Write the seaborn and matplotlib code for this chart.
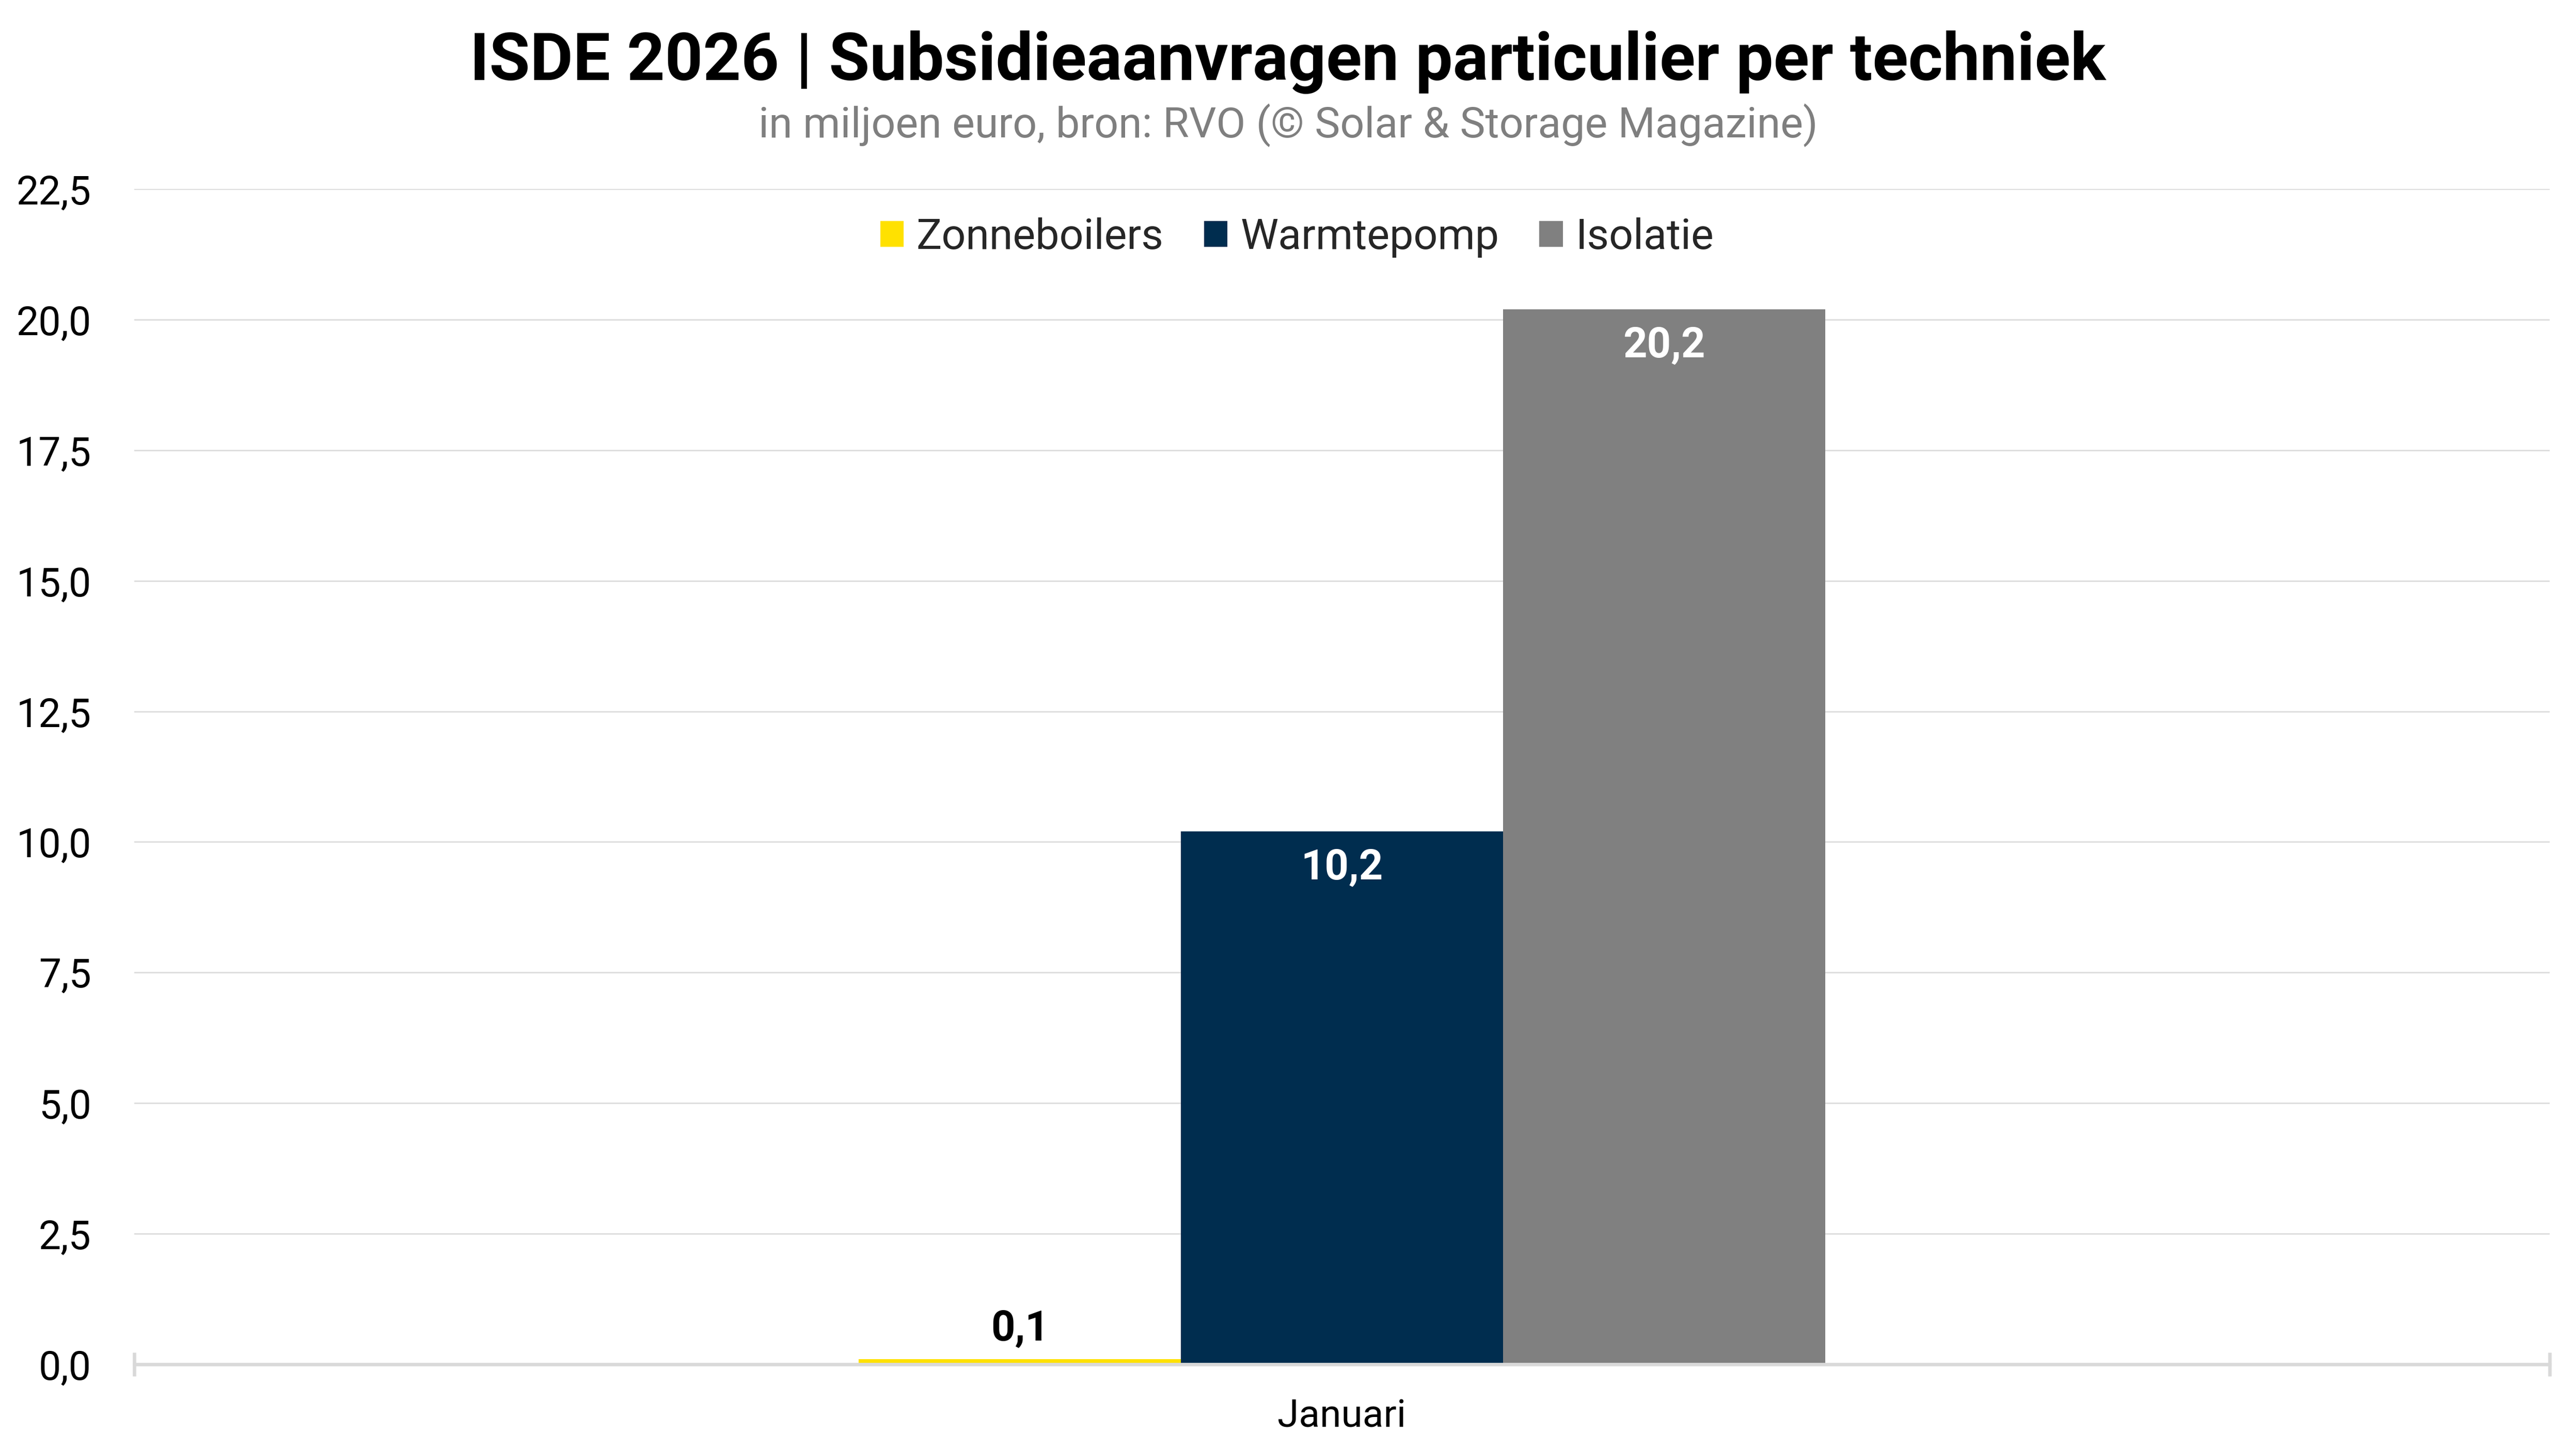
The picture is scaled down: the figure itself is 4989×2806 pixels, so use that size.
"""ISDE 2026 subsidieaanvragen particulier per techniek (bar chart)."""

import matplotlib

matplotlib.use("Agg")

import matplotlib.pyplot as plt
import matplotlib.ticker as mticker
import pandas as pd
import seaborn as sns


MAANDEN = ["Januari"]
TECHNIEKEN = ["Zonneboilers", "Warmtepomp", "Isolatie"]
WAARDEN = [0.1, 10.2, 20.2]  # miljoen euro, per techniek in januari
Y_TICKS = [0, 2.5, 5, 7.5, 10, 12.5, 15, 17.5, 20, 22.5]

KLEUREN = {"Zonneboilers": "#FFE100", "Warmtepomp": "#002D4F", "Isolatie": "#808080"}
AS_KLEUR = "#D9D9D9"
FONT = ["Roboto", "DejaVu Sans"]

W, H = 4989, 2806


def komma(v, _pos=None):
    return f"{v:.1f}".replace(".", ",")


def main() -> None:
    df = pd.DataFrame(
        {
            "maand": MAANDEN * len(TECHNIEKEN),
            "techniek": TECHNIEKEN,
            "waarde": WAARDEN,
        }
    )

    sns.set_theme(style="white")
    plt.rcParams["font.family"] = FONT

    fig = plt.figure(figsize=(W / 300, H / 300), dpi=300)
    ax = fig.add_axes([260 / W, 1 - 2642 / H, (4938 - 260) / W, (2642 - 366) / H])

    sns.barplot(
        data=df,
        x="maand",
        y="waarde",
        hue="techniek",
        hue_order=TECHNIEKEN,
        palette=KLEUREN,
        width=0.4,
        gap=0,
        saturation=1,
        linewidth=0,
        errorbar=None,
        ax=ax,
    )

    ax.set_ylim(0, 22.5)
    ax.set_xlim(-0.5, 0.5)
    ax.set_yticks(Y_TICKS)
    ax.yaxis.set_major_formatter(mticker.FuncFormatter(komma))
    ax.yaxis.grid(True, color=AS_KLEUR, linewidth=0.6)
    ax.set_axisbelow(True)
    ax.tick_params(axis="y", length=0, labelsize=18.5, pad=20, labelcolor="black")

    ax.set_xlabel("")
    ax.set_ylabel("")
    ax.tick_params(axis="x", which="major", length=0, labelsize=18, pad=15.7, labelcolor="black")
    ax.set_xticks([-0.5, 0.5], minor=True)
    ax.tick_params(
        axis="x", which="minor", bottom=True, direction="inout", length=11, width=1.6, color=AS_KLEUR
    )

    for side in ("top", "right", "left"):
        ax.spines[side].set_visible(False)
    ax.spines["bottom"].set_color(AS_KLEUR)
    ax.spines["bottom"].set_linewidth(1.6)

    # waardelabels
    for patch, value in zip(ax.patches, WAARDEN):
        x = patch.get_x() + patch.get_width() / 2
        top = patch.get_height()
        if value < 2:
            offset, color = 14, "black"
        else:
            offset, color = -17, "white"
        ax.annotate(
            komma(value),
            xy=(x, top),
            xytext=(0, offset),
            textcoords="offset points",
            ha="center",
            va="center",
            fontsize=19.5,
            fontweight="bold",
            color=color,
        )

    handles, labels = ax.get_legend_handles_labels()
    ax.legend(
        handles,
        labels,
        loc="center",
        bbox_to_anchor=(0.4814, 0.9585),
        ncol=3,
        frameon=False,
        fontsize=19.8,
        handlelength=0.55,
        handleheight=0.55,
        handletextpad=0.3,
        columnspacing=0.95,
    )

    fig.text(
        0.5,
        1 - 121 / H,
        "ISDE 2026 | Subsidieaanvragen particulier per techniek",
        ha="center",
        va="center",
        fontsize=30.8,
        fontweight="bold",
        color="black",
    )
    fig.text(
        0.5,
        1 - 243 / H,
        "in miljoen euro, bron: RVO (© Solar & Storage Magazine)",
        ha="center",
        va="center",
        fontsize=19.8,
        color="#7F7F7F",
    )

    fig.savefig("out.png", dpi=300, facecolor="white")
    plt.close(fig)


if __name__ == "__main__":
    main()
